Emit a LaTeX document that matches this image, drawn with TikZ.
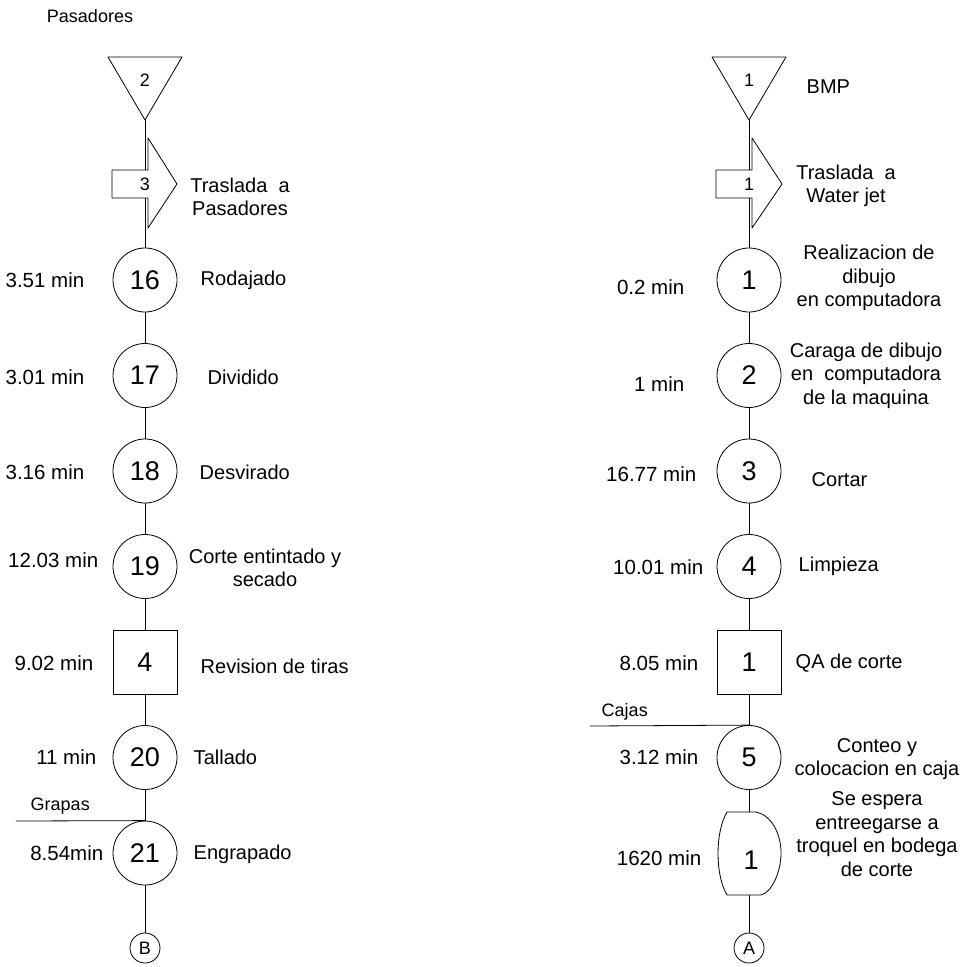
\documentclass[tikz,border=0pt]{standalone}
\usepackage{fontspec}
\setmainfont{Liberation Sans}

\begin{document}
\begin{tikzpicture}[x=1pt,y=-1pt,line cap=round,line join=round,line width=0.8pt,
  opbox/.style={circle,draw,fill=white,inner sep=0pt,minimum size=64pt,font=\fontsize{27}{27}\selectfont},
  insbox/.style={rectangle,draw,fill=white,inner sep=0pt,minimum size=64pt,font=\fontsize{27}{27}\selectfont},
  linkbox/.style={circle,draw,fill=white,inner sep=0pt,minimum size=30pt,font=\fontsize{18}{18}\selectfont},
  tag/.style={font=\fontsize{18}{18}\selectfont},
  txt/.style={font=\fontsize{20}{23.5}\selectfont,align=center},
  tme/.style={font=\fontsize{20.5}{20.5}\selectfont,anchor=east}]
\useasboundingbox (0,0) rectangle (971,966);
% left column: Pasadores
\begin{scope}[shift={(145,0)}]
\node[tag] (hdrP) at (-55,16) {Pasadores};
\draw (-37,57) -- (37,57) -- (0,120) -- cycle;
\coordinate (a2) at (0,120);
\node[tag] (a2n) at (0,80) {2};
\node[opbox] (o16) at (0,280) {16};
\node[opbox] (o17) at (0,375.5) {17};
\node[opbox] (o18) at (0,471) {18};
\node[opbox] (o19) at (0,566.5) {19};
\node[insbox] (i4) at (0,662) {4};
\node[opbox] (o20) at (0,757.5) {20};
\node[opbox] (o21) at (0,853) {21};
\node[linkbox] (cB) at (0,948) {B};
\draw (a2) -- (o16) -- (o17) -- (o18) -- (o19) -- (i4) -- (o20) -- (o21) -- (cB);
\filldraw[fill=white] (-33,170) -- (3,170) -- (3,138) -- (32,184) -- (3,228) -- (3,198) -- (-33,198) -- cycle;
\node[tag] (t3) at (0,184) {3};
\coordinate (grp) at (-129,821);
\draw (grp) -- (o21.north);
\node[tag,anchor=west] (grpn) at (-118,806) {Grapas};
% times
\node[tme] (m16) at (-57,280) {3.51 min};
\node[tme] (m17) at (-57,377) {3.01 min};
\node[tme] (m18) at (-57,472) {3.16 min};
\node[tme] (m19) at (-43,560) {12.03 min};
\node[tme] (m4) at (-48,663) {9.02 min};
\node[tme] (m20) at (-45,757) {11 min};
\node[tme] (m21) at (-38,853) {8.54min};
% activities
\node[txt] (d3) at (95,197) {Traslada\ \ a\\Pasadores};
\node[txt,anchor=west] (d16) at (52,280) {Rodajado};
\node[txt,anchor=west] (d17) at (59,377) {Dividido};
\node[txt,anchor=west] (d18) at (51,472) {Desvirado};
\node[txt] (d19) at (120,568) {Corte entintado y\\secado};
\node[txt,anchor=west] (d4) at (52,666) {Revision de tiras};
\node[txt,anchor=west] (d20) at (45,757) {Tallado};
\node[txt,anchor=west] (d21) at (45,854) {Engrapado};
\end{scope}
% right column: BMP
\begin{scope}[shift={(749,0)}]
\draw (-37,57) -- (37,57) -- (0,120) -- cycle;
\coordinate (a1) at (0,120);
\node[tag] (a1n) at (0,80) {1};
\node[txt,anchor=west] (hdrB) at (54,87) {BMP};
\node[opbox] (o1) at (0,280) {1};
\node[opbox] (o2) at (0,375.5) {2};
\node[opbox] (o3) at (0,471) {3};
\node[opbox] (o4) at (0,566.5) {4};
\node[insbox] (i1) at (0,662) {1};
\node[opbox] (o5) at (0,757.5) {5};
\coordinate (dtop) at (0,812);
\coordinate (dbot) at (0,895);
\node[linkbox] (cA) at (0,948) {A};
\draw (a1) -- (o1) -- (o2) -- (o3) -- (o4) -- (i1) -- (o5) -- (dtop);
\draw (dbot) -- (cA);
\filldraw[fill=white] (-33,170) -- (3,170) -- (3,138) -- (33,184) -- (3,228) -- (3,198) -- (-33,198) -- cycle;
\node[tag] (t1) at (0,184) {1};
\filldraw[fill=white] (-22,812) -- (7,812) .. controls (22,815) and (32,833) .. (32,853)
  .. controls (32,873) and (22,893) .. (12,895) -- (-22,895)
  .. controls (-34,875) and (-34,832) .. (-22,812) -- cycle;
\node[font=\fontsize{27}{27}\selectfont] (e1) at (2,860) {1};
\coordinate (cjs) at (-159,726);
\draw (cjs) -- (o5.north);
\node[tag,anchor=west] (cjsn) at (-151,712) {Cajas};
% times
\node[tme] (n1) at (-61,287) {0.2 min};
\node[tme] (n2) at (-61,384) {1 min};
\node[tme] (n3) at (-49,474) {16.77 min};
\node[tme] (n4) at (-42,567) {10.01 min};
\node[tme] (n5) at (-47,663) {8.05 min};
\node[tme] (n6) at (-47,757) {3.12 min};
\node[tme] (n7) at (-44,858) {1620 min};
% activities
\node[txt] (g1) at (97,186) {Traslada\ \ a\\Water jet};
\node[txt] (g2) at (120,278) {Realizacion de\\dibujo\\en computadora};
\node[txt] (g3) at (117,375.5) {Caraga de dibujo\\en\ \ computadora\\de la maquina};
\node[txt,anchor=west] (g4) at (59,480) {Cortar};
\node[txt,anchor=west] (g5) at (46,566) {Limpieza};
\node[txt,anchor=west] (g6) at (43,663) {QA de corte};
\node[txt] (g7) at (128,759) {Conteo y\\colocacion en caja};
\node[txt] (g8) at (128,834) {Se espera\\entreegarse a\\troquel en bodega\\de corte};
\end{scope}
\end{tikzpicture}
\end{document}
